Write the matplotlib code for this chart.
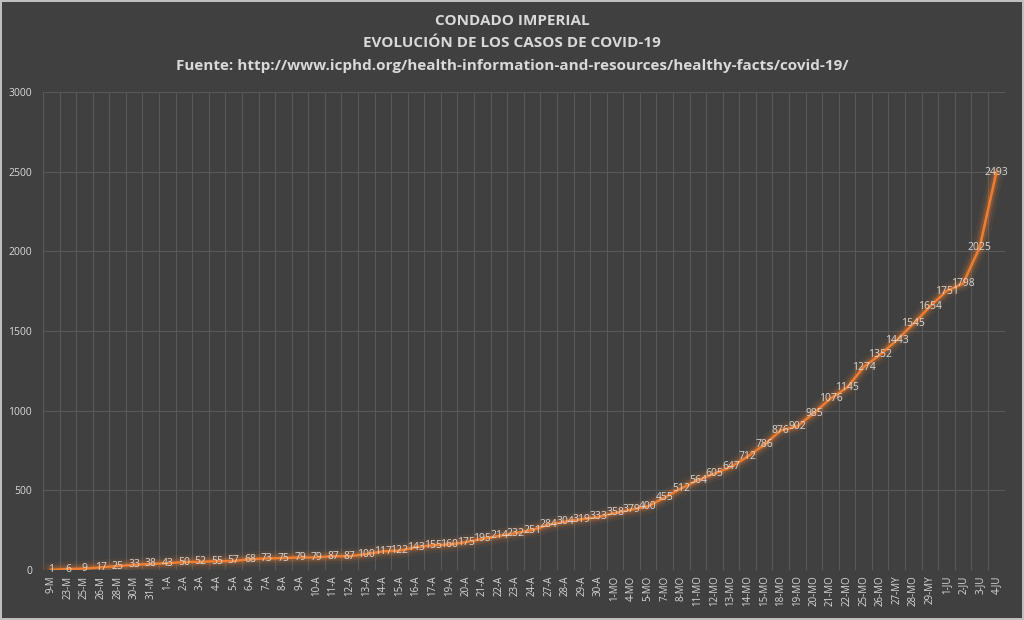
import matplotlib
matplotlib.use("Agg")
import matplotlib.pyplot as plt
import numpy as np

fechas = ["9-M", "23-M", "25-M", "26-M", "28-M", "30-M", "31-M",
          "1-A", "2-A", "3-A", "4-A", "5-A", "6-A", "7-A", "8-A", "9-A", "10-A",
          "11-A", "12-A", "13-A", "14-A", "15-A", "16-A", "17-A", "19-A", "20-A",
          "21-A", "22-A", "23-A", "24-A", "27-A", "28-A", "29-A", "30-A",
          "1-MO", "4-MO", "5-MO", "7-MO", "8-MO", "11-MO", "12-MO", "13-MO",
          "14-MO", "15-MO", "18-MO", "19-MO", "20-MO", "21-MO", "22-MO", "25-MO",
          "26-MO", "27-MY", "28-MO", "29-MY", "1-JU", "2-JU", "3-JU", "4-JU"]
casos = [1, 6, 9, 17, 25, 33, 38,
         43, 50, 52, 55, 57, 68, 73, 75, 79, 79,
         87, 87, 100, 117, 122, 143, 155, 160, 175,
         195, 214, 232, 251, 284, 304, 319, 333,
         358, 379, 400, 455, 512, 564, 605, 647,
         712, 786, 876, 902, 985, 1076, 1145, 1274,
         1352, 1443, 1545, 1654, 1751, 1798, 2025, 2493]

titulo = ("CONDADO IMPERIAL\nEVOLUCIÓN DE LOS CASOS DE COVID-19\n"
          "Fuente: http://www.icphd.org/health-information-and-resources/healthy-facts/covid-19/")

bg = "#404040"
txt = "#d9d9d9"
naranja = "#ed7d31"

plt.rcParams["font.family"] = ["Open Sans", "DejaVu Sans"]

fig = plt.figure(figsize=(10.24, 6.2), dpi=100, facecolor=bg)
fig.patch.set_edgecolor("#bfbfbf")
fig.patch.set_linewidth(1.5)
ax = fig.add_axes([0.042, 0.0806, 0.939, 0.771], facecolor=bg)

x = np.arange(len(casos))

# glow behind the line
for lw, a in [(11, 0.07), (7, 0.13), (4.5, 0.22)]:
    ax.plot(x, casos, color=naranja, lw=lw, alpha=a, solid_capstyle="round",
            solid_joinstyle="round")
ax.plot(x, casos, color=naranja, lw=1.8, solid_joinstyle="round")

for xi, v in zip(x, casos):
    ax.text(xi, v, str(v), color=txt, fontsize=7.5, ha="center", va="center")

ax.set_xlim(-0.5, len(casos) - 0.5)
ax.set_ylim(0, 3000)
ax.set_yticks(range(0, 3001, 500))
ax.set_xticks(x)
ax.set_xticklabels(fechas, rotation=90, fontsize=7, color=txt)
ax.set_xticks(np.arange(-0.5, len(casos)), minor=True)
ax.tick_params(axis="y", colors=txt, labelsize=7.5, length=0, pad=8)
ax.tick_params(axis="x", which="both", length=0, pad=4)

ax.grid(axis="y", color="#595959", lw=0.8)
ax.grid(axis="x", which="minor", color="#595959", lw=0.8)
ax.set_axisbelow(True)
for s in ax.spines.values():
    s.set_visible(False)

fig.text(0.5, 0.978, titulo, ha="center", va="top", color=txt,
         fontsize=11, fontweight="bold", linespacing=1.78)

fig.savefig("out.png", dpi=100, facecolor=bg, edgecolor=fig.get_edgecolor())
